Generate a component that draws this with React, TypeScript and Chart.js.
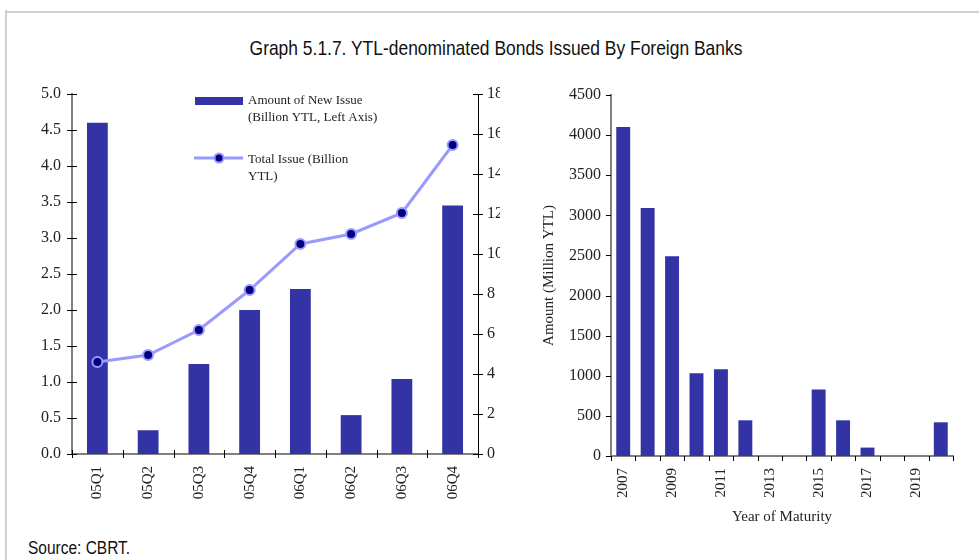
import React, { useEffect, useRef } from "react";
import { Chart, registerables } from "chart.js";

Chart.register(...registerables);

// ---------- data ----------
const quarters = ["05Q1", "05Q2", "05Q3", "05Q4", "06Q1", "06Q2", "06Q3", "06Q4"];
const newIssue = [4.6, 0.33, 1.25, 2.0, 2.29, 0.54, 1.04, 3.45];
const totalIssue = [4.6, 4.95, 6.2, 8.2, 10.5, 11.0, 12.05, 15.45];

const maturityYears = ["2007", "2008", "2009", "2010", "2011", "2012", "2013", "2014", "2015", "2016", "2017", "2018", "2019", "2020"];
const maturityAmount = [4100, 3090, 2490, 1030, 1080, 445, 0, 0, 830, 445, 105, 0, 0, 420];

const leftAxisRange = { min: 0, max: 5, step: 0.5 };
const rightAxisRange = { min: 0, max: 18, step: 2 };
const maturityAxisRange = { min: 0, max: 4500, step: 500 };

const titleText = "Graph 5.1.7. YTL-denominated Bonds Issued By Foreign Banks";
const sourceText = "Source: CBRT.";
const legendBarLines = ["Amount of New Issue", "(Billion YTL, Left Axis)"];
const legendLineLines = ["Total Issue (Billion", "YTL)"];
const maturityYTitle = "Amount (Million YTL)";
const maturityXTitle = "Year of Maturity";

// ---------- styles ----------
const SERIF = "'Liberation Serif', 'Times New Roman', serif";
const SANS = "'Liberation Sans', Arial, sans-serif";
const BAR = "#3333a6";
const LINE = "#9999ff";
const POINT = "#000080";
const AXIS_GRAY = "#808080";
const yTickFont = { family: SERIF, size: 16 };
const xTickFont = { family: SERIF, size: 15 };
const axisTitleFont = { family: SERIF, size: 15 };

// draws small crossing tick marks on axes
const tickMarksPlugin = {
  id: "tickMarks",
  afterDatasetsDraw(chart: any, _args: any, opts: any) {
    const ctx = chart.ctx;
    ctx.save();
    ctx.strokeStyle = "#000";
    ctx.lineWidth = 1;
    for (const spec of opts.specs || []) {
      const scale = chart.scales[spec.id];
      if (!scale) continue;
      let positions: number[] = [];
      if (spec.boundaries) {
        const n = scale.getLabels().length;
        for (let i = 0; i <= n; i++) positions.push(scale.getPixelForValue(i - 0.5));
      } else {
        positions = scale.ticks.map((t: any) => scale.getPixelForValue(t.value));
      }
      const ca = chart.chartArea;
      for (const p of positions) {
        ctx.beginPath();
        if (scale.isHorizontal()) {
          const y = ca.bottom;
          const px = Math.round(p) + 0.5;
          ctx.moveTo(px, y - spec.inside);
          ctx.lineTo(px, y + spec.outside);
        } else {
          const x = spec.side === "right" ? ca.right : ca.left;
          const py = Math.round(p) + 0.5;
          if (spec.side === "right") {
            ctx.moveTo(x - spec.inside, py);
            ctx.lineTo(x + spec.outside, py);
          } else {
            ctx.moveTo(x - spec.outside, py);
            ctx.lineTo(x + spec.inside, py);
          }
        }
        ctx.stroke();
      }
    }
    ctx.restore();
  },
};

// legend drawn inside the left chart
const customLegendPlugin = {
  id: "customLegend",
  afterDraw(chart: any, _args: any, opts: any) {
    if (!opts || !opts.show) return;
    const ctx = chart.ctx;
    const ox = opts.x;
    const oy = opts.y;
    ctx.save();
    ctx.font = `13px ${SERIF}`;
    ctx.textBaseline = "middle";
    ctx.textAlign = "left";
    // bar entry
    ctx.fillStyle = BAR;
    ctx.fillRect(ox, oy, 48, 8);
    ctx.fillStyle = "#222";
    legendBarLines.forEach((t, i) => ctx.fillText(t, ox + 53, oy + 4 + i * 17));
    // line entry
    const ly = oy + 61;
    ctx.strokeStyle = LINE;
    ctx.lineWidth = 3;
    ctx.beginPath();
    ctx.moveTo(ox - 1, ly);
    ctx.lineTo(ox + 48, ly);
    ctx.stroke();
    ctx.beginPath();
    ctx.arc(ox + 24, ly, 4.5, 0, Math.PI * 2);
    ctx.fillStyle = POINT;
    ctx.fill();
    ctx.lineWidth = 2;
    ctx.strokeStyle = LINE;
    ctx.stroke();
    ctx.fillStyle = "#222";
    legendLineLines.forEach((t, i) => ctx.fillText(t, ox + 53, ly + 2 + i * 17));
    ctx.restore();
  },
};

const noGrid = { display: false, drawTicks: false, tickLength: 0 };

const fixV = (w: number) => (s: any) => {
  s.width = w;
  s.paddingTop = 0;
  s.paddingBottom = 0;
};
const fixH = (h: number) => (s: any) => {
  s.height = h;
  s.paddingLeft = 0;
  s.paddingRight = 0;
};

function LeftChart() {
  const ref = useRef<HTMLCanvasElement>(null);
  useEffect(() => {
    if (!ref.current) return;
    const chart = new Chart(ref.current, {
      data: {
        labels: quarters,
        datasets: [
          {
            type: "line",
            data: totalIssue,
            yAxisID: "y1",
            borderColor: LINE,
            borderWidth: 3,
            pointRadius: 5,
            pointBackgroundColor: POINT,
            pointBorderColor: LINE,
            pointBorderWidth: 2,
            order: 0,
          } as any,
          {
            type: "bar",
            data: newIssue,
            yAxisID: "y",
            backgroundColor: BAR,
            barPercentage: 0.41,
            categoryPercentage: 1,
            order: 1,
          } as any,
        ],
      },
      options: {
        responsive: false,
        animation: false,
        layout: { padding: { top: 14, left: 0, right: 0, bottom: 0 } },
        plugins: {
          legend: { display: false },
          tooltip: { enabled: false },
          tickMarks: {
            specs: [
              { id: "x", boundaries: true, inside: 4, outside: 4 },
              { id: "y", side: "left", inside: 5, outside: 5 },
              { id: "y1", side: "right", inside: 5, outside: 5 },
            ],
          },
          customLegend: { show: true, x: 175, y: 17 },
        } as any,
        scales: {
          x: {
            grid: noGrid,
            border: { color: AXIS_GRAY, width: 2 },
            ticks: { font: xTickFont, color: "#222", minRotation: 90, maxRotation: 90, padding: 12, autoSkip: false },
            afterFit: fixH(56),
          },
          y: {
            position: "left",
            min: leftAxisRange.min,
            max: leftAxisRange.max,
            grid: noGrid,
            border: { color: AXIS_GRAY, width: 2 },
            ticks: { stepSize: leftAxisRange.step, font: yTickFont, color: "#222", padding: 11, callback: (v: any) => Number(v).toFixed(1) },
            afterFit: fixV(52),
          },
          y1: {
            position: "right",
            min: rightAxisRange.min,
            max: rightAxisRange.max,
            grid: noGrid,
            border: { color: "#000", width: 1 },
            ticks: { stepSize: rightAxisRange.step, font: yTickFont, color: "#222", padding: 9, callback: (v: any) => String(v) },
            afterFit: fixV(22),
          },
        },
      },
      plugins: [tickMarksPlugin, customLegendPlugin],
    });
    return () => chart.destroy();
  }, []);
  return <canvas ref={ref} width={480} height={430} style={{ position: "absolute", left: 20, top: 80, width: 480, height: 430 }} />;
}

function RightChart() {
  const ref = useRef<HTMLCanvasElement>(null);
  useEffect(() => {
    if (!ref.current) return;
    const chart = new Chart(ref.current, {
      type: "bar",
      data: {
        labels: maturityYears,
        datasets: [
          {
            data: maturityAmount,
            backgroundColor: BAR,
            barPercentage: 0.57,
            categoryPercentage: 1,
          },
        ],
      },
      options: {
        responsive: false,
        animation: false,
        layout: { padding: { top: 15, left: 0, right: 17, bottom: 0 } },
        plugins: {
          legend: { display: false },
          tooltip: { enabled: false },
          tickMarks: {
            specs: [
              { id: "x", boundaries: true, inside: 0, outside: 5 },
              { id: "y", side: "left", inside: 0, outside: 5 },
            ],
          },
        } as any,
        scales: {
          x: {
            grid: noGrid,
            border: { color: AXIS_GRAY, width: 2 },
            ticks: {
              font: xTickFont,
              color: "#222",
              minRotation: 90,
              maxRotation: 90,
              padding: 12,
              autoSkip: false,
              callback: (_v: any, i: number) => (i % 2 === 0 ? maturityYears[i] : ""),
            },
            title: { display: true, text: maturityXTitle, font: axisTitleFont, color: "#222", padding: { top: 0, bottom: 14 } },
            afterFit: fixH(84),
          },
          y: {
            min: maturityAxisRange.min,
            max: maturityAxisRange.max,
            grid: noGrid,
            border: { color: AXIS_GRAY, width: 2 },
            ticks: { stepSize: maturityAxisRange.step, font: yTickFont, color: "#222", padding: 10, callback: (v: any) => String(v) },
            title: { display: true, text: maturityYTitle, font: axisTitleFont, color: "#222", padding: { top: 15, bottom: 0 } },
            afterFit: fixV(86),
          },
        },
      },
      plugins: [tickMarksPlugin],
    });
    return () => chart.destroy();
  }, []);
  return <canvas ref={ref} width={445} height={460} style={{ position: "absolute", left: 525, top: 80, width: 445, height: 460 }} />;
}

export default function App() {
  return (
    <div style={{ position: "fixed", left: 0, top: 0, width: 979, height: 560, background: "#fff", overflow: "hidden" }}>
      <div style={{ position: "absolute", left: 5, top: 11, width: 974, height: 2, background: "#d4d0c8" }} />
      <div style={{ position: "absolute", left: 5, top: 10, width: 2, height: 550, background: "#d4d0c8" }} />
      <div
        style={{
          position: "absolute",
          left: 0,
          width: 992,
          top: 35,
          textAlign: "center",
          fontFamily: SANS,
          fontSize: 21,
          color: "#111",
          whiteSpace: "nowrap",
          lineHeight: "26px",
          transform: "scaleX(0.83)",
          transformOrigin: "496px 0",
        }}
      >
        {titleText}
      </div>
      <LeftChart />
      <RightChart />
      <div
        style={{
          position: "absolute",
          left: 28,
          top: 537,
          fontFamily: SANS,
          fontSize: 18,
          color: "#111",
          whiteSpace: "nowrap",
          lineHeight: "22px",
          transform: "scaleX(0.86)",
          transformOrigin: "0 0",
        }}
      >
        {sourceText}
      </div>
    </div>
  );
}
